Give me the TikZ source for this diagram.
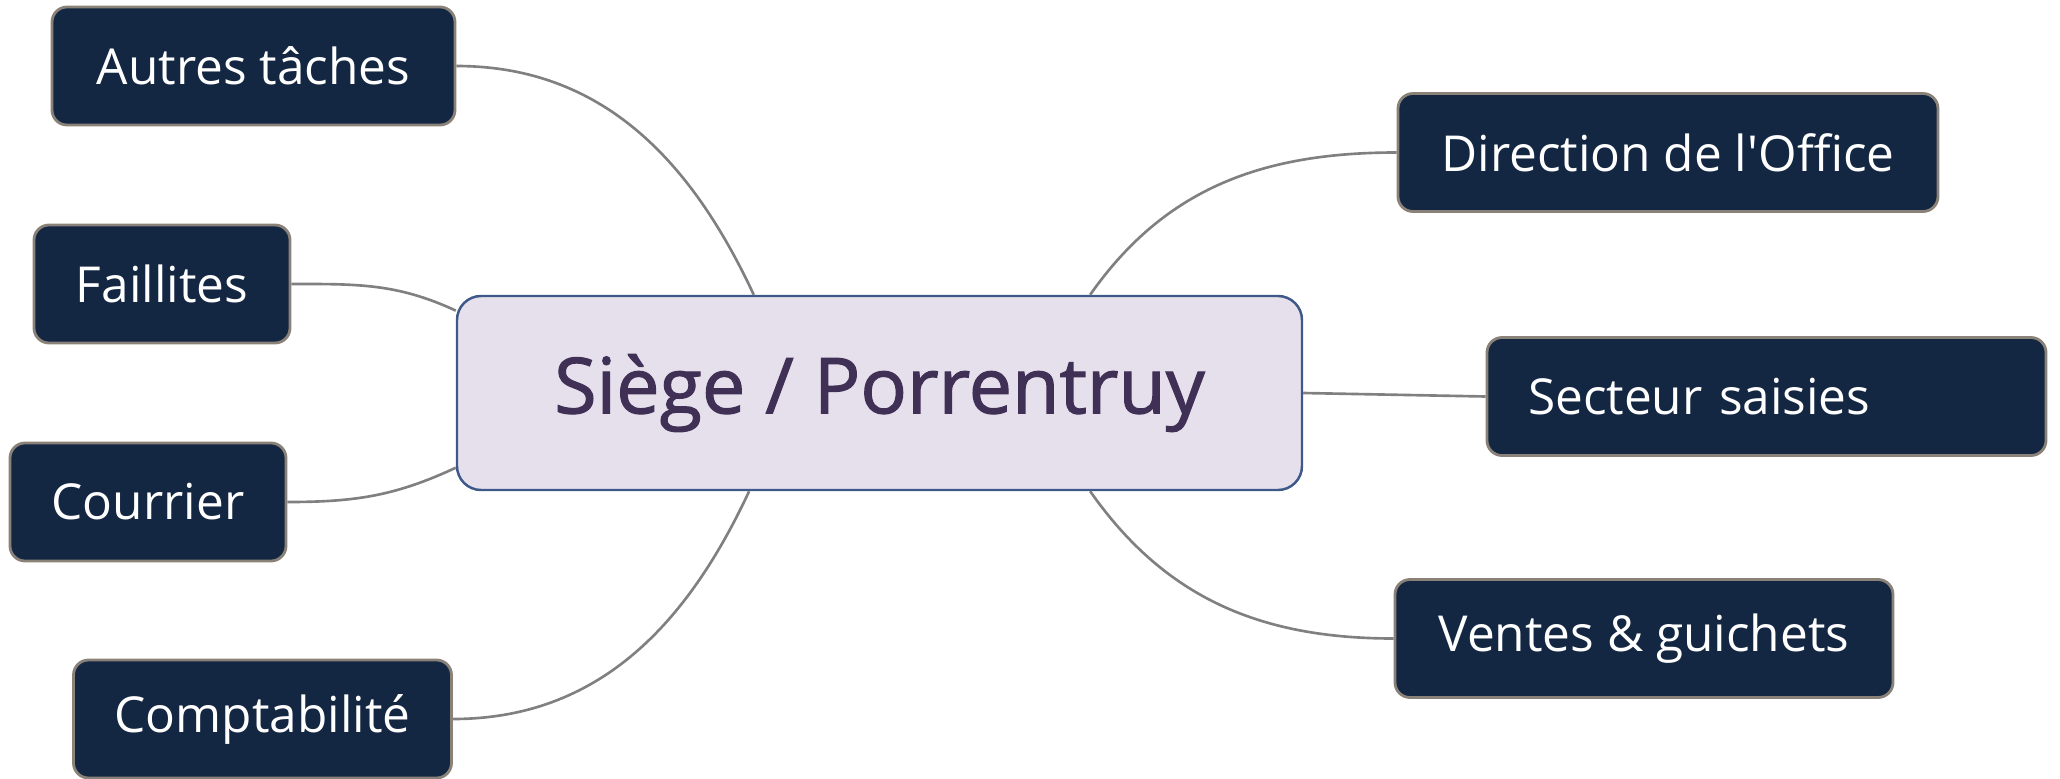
\documentclass[tikz,border=0pt]{standalone}
\usepackage{fontspec}
\setmainfont{Open Sans}
\newfontfamily\siegefont{Open Sans}[FakeBold=1.5]
\usepackage{tikz}
\usetikzlibrary{positioning}
\usetikzlibrary{calc}

\definecolor{boxfill}{RGB}{19,38,66}
\definecolor{boxline}{RGB}{138,130,120}
\definecolor{siegefill}{RGB}{229,224,236}
\definecolor{siegeline}{RGB}{62,88,138}
\definecolor{siegetext}{RGB}{64,48,86}
\definecolor{linkgray}{RGB}{128,128,128}

\begin{document}
\begin{tikzpicture}[
    branch/.style={draw=boxline, fill=boxfill, text=white, line width=0.8pt, rounded corners=0.15cm,
        minimum height=1.18cm, inner xsep=0.41cm, font=\fontsize{14.1}{17}\selectfont},
    centre/.style={draw=siegeline, fill=siegefill, text=siegetext, line width=0.7pt, rounded corners=0.24cm,
        minimum width=8.45cm, minimum height=1.94cm, font=\siegefont\fontsize{22}{26}\selectfont},
    link/.style={draw=linkgray, line width=0.75pt}]
        \useasboundingbox (0,0) rectangle (20.6,-7.79);

        \node [centre] (siege) at (8.795,-3.93) {Siège / Porrentruy};

        % left side
        \node [branch, minimum width=4.03cm] (autres) at (2.535,-0.66) {Autres tâches};
        \node [branch, minimum width=2.56cm] (faillites) at (1.62,-2.84) {Faillites};
        \node [branch, minimum width=2.76cm] (courrier) at (1.48,-5.02) {Courrier};
        \node [branch, minimum width=3.77cm] (compta) at (2.625,-7.19) {Comptabilité};

        % right side
        \node [branch, minimum width=5.40cm] (direction) at (16.68,-1.525) {Direction de l\textquotesingle Office};
        \node [branch, text width=4.77cm, align=left] (saisies) at (17.665,-3.965) {Secteur saisies};
        \node [branch, minimum width=4.98cm] (ventes) at (16.44,-6.385) {Ventes \& guichets};

        \draw [link] (autres.east) to [out=0, in=115] (siege.142.5);
        \draw [link] (faillites.east) to [out=0, in=155] (siege.169);
        \draw [link] (courrier.east) to [out=0, in=205] (siege.190);
        \draw [link] (compta.east) to [out=0, in=245] (siege.217.5);
        \draw [link] (siege.25) to [out=55, in=180] (direction.west);
        \draw [link] (siege.east) -- (saisies.west);
        \draw [link] (siege.-25.5) to [out=-55, in=180] (ventes.west);

    \end{tikzpicture}
\end{document}
